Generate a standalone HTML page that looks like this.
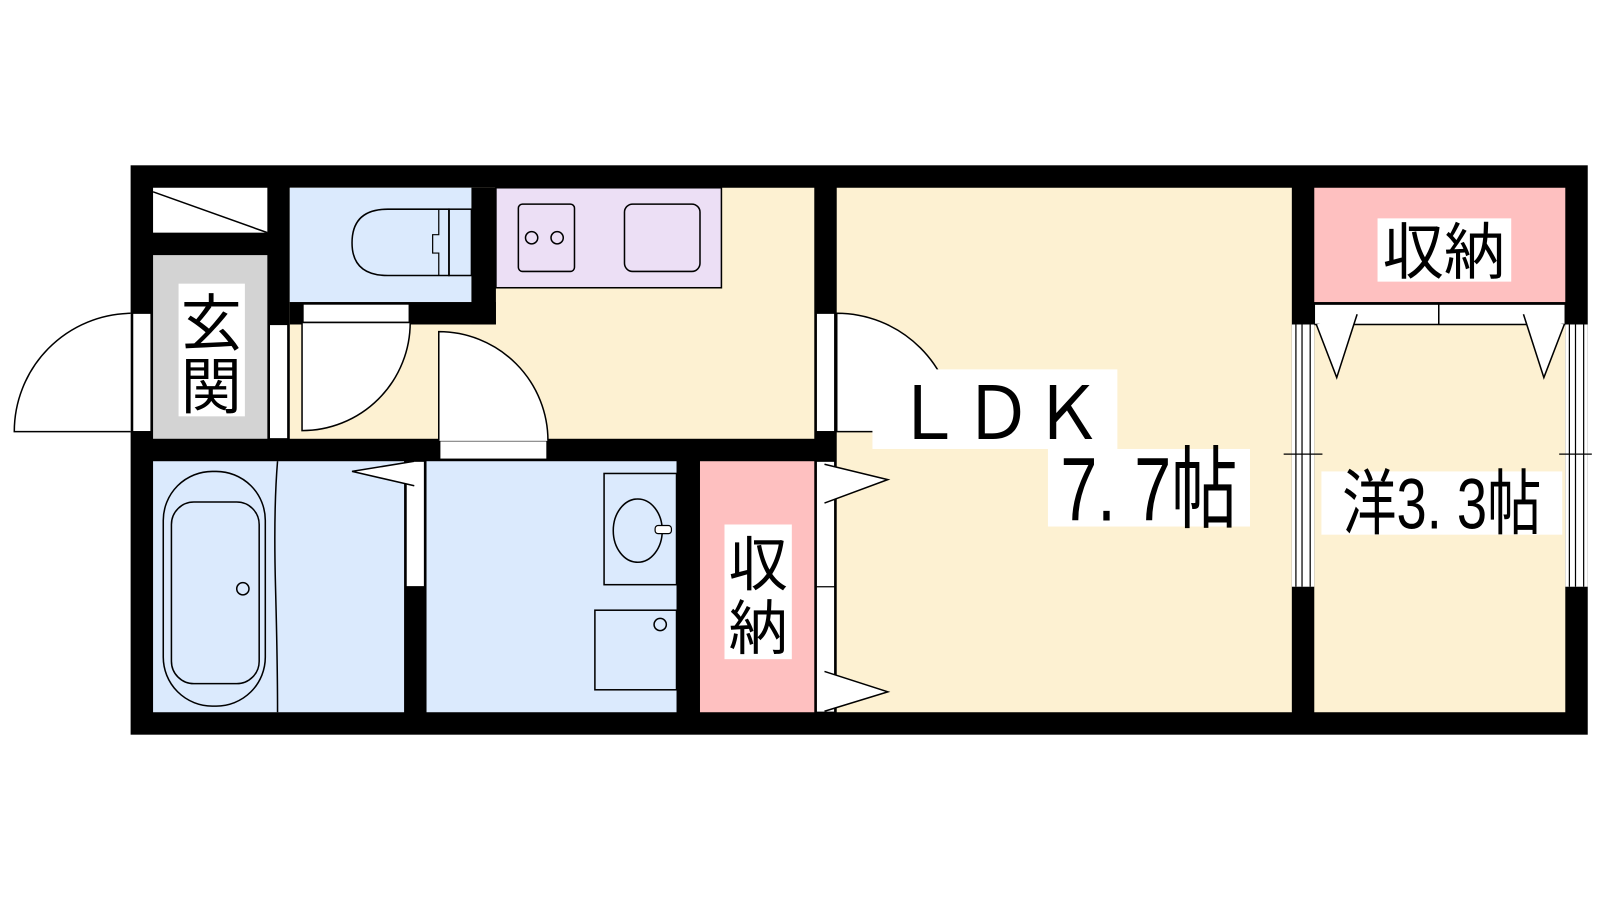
<!DOCTYPE html>
<html><head><meta charset="utf-8"><style>
html,body{margin:0;padding:0;background:#fff;width:1600px;height:900px;overflow:hidden}
svg{display:block}
text{font-family:"Liberation Sans","Noto Sans CJK JP",sans-serif;fill:#000}
</style></head><body>
<svg width="1600" height="900" viewBox="0 0 1600 900" xmlns="http://www.w3.org/2000/svg">
<g transform="scale(1.0204)">
<rect x="128" y="162" width="1428" height="558" fill="#000"/>
<rect x="150" y="184" width="112" height="44" fill="#fff"/>
<line x1="150" y1="188" x2="262" y2="228" stroke="#000" stroke-width="1.5"/>
<rect x="150" y="250" width="112" height="180" fill="#d3d3d3"/>
<rect x="284" y="184" width="514" height="246" fill="#fdf1d2"/>
<rect x="284" y="184" width="178" height="112" fill="#dbeafd"/>
<rect x="462" y="184" width="24" height="134" fill="#000"/>
<rect x="284" y="296" width="202" height="22" fill="#000"/>
<rect x="486" y="184" width="221" height="98" fill="#ecdff5" stroke="#000" stroke-width="1.5"/>
<rect x="508" y="200" width="55" height="66" rx="4" fill="none" stroke="#000" stroke-width="1.5"/>
<circle cx="521" cy="233" r="6" fill="none" stroke="#000" stroke-width="1.5"/>
<circle cx="546" cy="233" r="6" fill="none" stroke="#000" stroke-width="1.5"/>
<rect x="612" y="200" width="74" height="66" rx="8" fill="none" stroke="#000" stroke-width="1.5"/>
<path d="M440 205 L380 205 Q345 205 345 238 Q345 270 380 270 L440 270 Z" fill="none" stroke="#000" stroke-width="1.5"/>
<rect x="440" y="205" width="22" height="65" fill="none" stroke="#000" stroke-width="1.5"/>
<path d="M440 205 L440 270 M430 205 L430 230 L424 230 L424 248 L430 248 L430 270" fill="none" stroke="#000" stroke-width="1.2"/>
<rect x="820" y="184" width="446" height="514" fill="#fdf1d2"/>
<rect x="1288" y="184" width="246" height="112" fill="#fec0c0"/>
<rect x="1288" y="318" width="246" height="380" fill="#fdf1d2"/>
<rect x="1288" y="298" width="246" height="20" fill="#fff" stroke="#000" stroke-width="1.5"/>
<line x1="1410" y1="298" x2="1410" y2="318" stroke="#000" stroke-width="1.5"/>
<polyline points="1290,318 1310,370 1330,308" fill="#fff" stroke="#000" stroke-width="1.5"/>
<polyline points="1493,308 1513,370 1533,318" fill="#fff" stroke="#000" stroke-width="1.5"/>
<rect x="1266" y="318" width="22" height="257" fill="#fff"/>
<line x1="1270" y1="318" x2="1270" y2="575" stroke="#000" stroke-width="1.2"/>
<line x1="1276" y1="318" x2="1276" y2="575" stroke="#000" stroke-width="1.2"/>
<line x1="1284" y1="318" x2="1284" y2="575" stroke="#000" stroke-width="1.2"/>
<line x1="1258" y1="445" x2="1296" y2="445" stroke="#000" stroke-width="1.2"/>
<rect x="1534" y="318" width="22" height="257" fill="#fff"/>
<line x1="1538" y1="318" x2="1538" y2="575" stroke="#000" stroke-width="1.2"/>
<line x1="1544" y1="318" x2="1544" y2="575" stroke="#000" stroke-width="1.2"/>
<line x1="1552" y1="318" x2="1552" y2="575" stroke="#000" stroke-width="1.2"/>
<line x1="1528" y1="445" x2="1560" y2="445" stroke="#000" stroke-width="1.2"/>
<rect x="150" y="452" width="246" height="246" fill="#dbeafd"/>
<rect x="418" y="452" width="245" height="246" fill="#dbeafd"/>
<rect x="686" y="452" width="112" height="246" fill="#fec0c0"/>
<rect x="398" y="452" width="18" height="123" fill="#fff" stroke="#000" stroke-width="1.2"/>
<polyline points="406,452 345,462 406,476" fill="#fff" stroke="#000" stroke-width="1.5"/>
<rect x="160" y="462" width="100" height="230" rx="48" fill="none" stroke="#000" stroke-width="1.5"/>
<rect x="168" y="492" width="86" height="178" rx="22" fill="none" stroke="#000" stroke-width="1.5"/>
<circle cx="238" cy="577" r="6" fill="none" stroke="#000" stroke-width="1.5"/>
<path d="M272 452 Q268 500 270 575 Q272 650 272 698" fill="none" stroke="#000" stroke-width="1.5"/>
<rect x="592" y="464" width="71" height="109" fill="none" stroke="#000" stroke-width="1.5"/>
<ellipse cx="625" cy="520" rx="24" ry="31" fill="none" stroke="#000" stroke-width="1.5"/>
<rect x="642" y="515" width="16" height="8" rx="3" fill="#fff" stroke="#000" stroke-width="1.2"/>
<rect x="583" y="598" width="80" height="78" fill="none" stroke="#000" stroke-width="1.5"/>
<circle cx="647" cy="612" r="6" fill="none" stroke="#000" stroke-width="1.5"/>
<rect x="800" y="452" width="18" height="246" fill="#fff" stroke="#000" stroke-width="1.2"/>
<line x1="800" y1="575" x2="818" y2="575" stroke="#000" stroke-width="1.2"/>
<polyline points="808,493 870,470 808,455" fill="#fff" stroke="#000" stroke-width="1.5"/>
<polyline points="808,658 870,678 808,697" fill="#fff" stroke="#000" stroke-width="1.5"/>
<rect x="130" y="307" width="18" height="116" fill="#fff" stroke="#000" stroke-width="1.2"/>
<path d="M128 307 A116 116 0 0 0 14 423 L128 423" fill="#fff" stroke="#000" stroke-width="1.5"/>
<rect x="264" y="318" width="18" height="112" fill="#fff" stroke="#000" stroke-width="1.2"/>
<rect x="297" y="298" width="104" height="18" fill="#fff" stroke="#000" stroke-width="1.2"/>
<path d="M296 316 L402 316 A106 106 0 0 1 296 422 Z" fill="#fff" stroke="#000" stroke-width="1.5"/>
<rect x="431" y="432" width="105" height="18" fill="#fff" stroke="#000" stroke-width="1.2"/>
<path d="M430 432 L430 325 A107 107 0 0 1 537 432" fill="#fff" stroke="#000" stroke-width="1.5"/>
<rect x="800" y="307" width="18" height="116" fill="#fff" stroke="#000" stroke-width="1.2"/>
<path d="M820 423 L820 307 A116 116 0 0 1 936 423 Z" fill="#fff" stroke="#000" stroke-width="1.5"/>
<rect x="175" y="278" width="65" height="130" fill="#fff"/>
<text x="207" y="338" font-size="60" text-anchor="middle">玄</text>
<text x="207" y="400" font-size="60" text-anchor="middle">関</text>
<rect x="710" y="514" width="66" height="132" fill="#fff"/>
<text x="743" y="574" font-size="58" text-anchor="middle">収</text>
<text x="743" y="636" font-size="58" text-anchor="middle">納</text>
<rect x="1350" y="214" width="131" height="62" fill="#fff"/>
<text x="1415" y="268" font-size="60" text-anchor="middle">収納</text>
<rect x="855" y="362" width="240" height="78" fill="#fff"/>
<text x="978" y="430" font-size="72" text-anchor="middle" transform="translate(978 0) scale(0.95 1) translate(-978 0)">ＬＤＫ</text>
<rect x="1027" y="440" width="198" height="76" fill="#fff"/>
<text x="1126" y="510" font-size="88" text-anchor="middle" transform="translate(1126 0) scale(0.74 1) translate(-1126 0)">7. 7帖</text>
<rect x="1295" y="462" width="236" height="62" fill="#fff"/>
<text x="1413" y="518" font-size="70" text-anchor="middle" transform="translate(1413 0) scale(0.76 1) translate(-1413 0)">洋3. 3帖</text>
</g>
</svg>
</body></html>
